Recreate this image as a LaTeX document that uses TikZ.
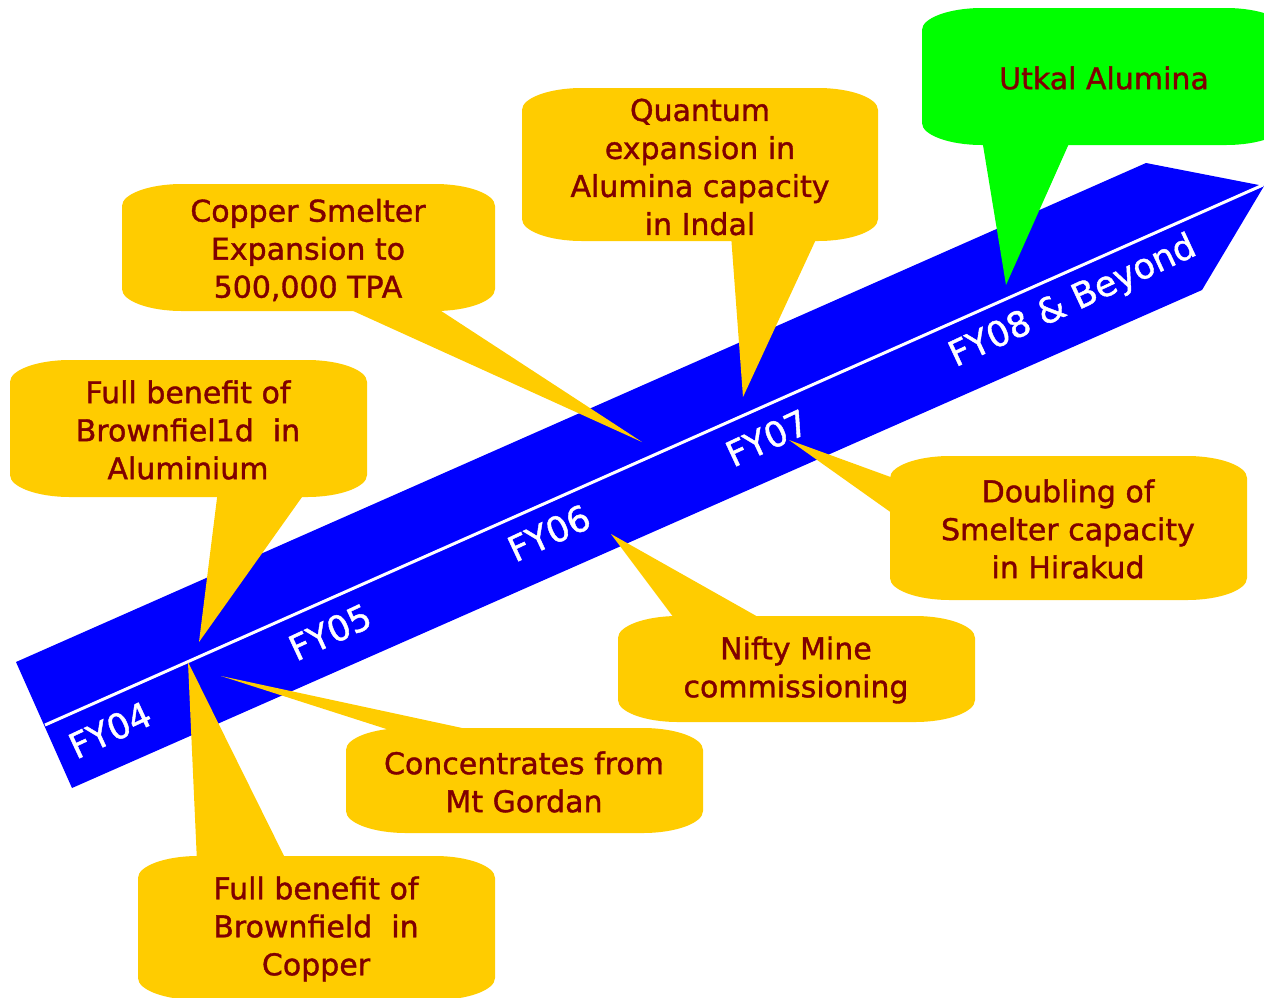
\documentclass[tikz,border=0pt]{standalone}
\usepackage{fontspec}
\setmainfont{DejaVu Sans}
\newfontfamily\notefont[FakeBold=1.2]{DejaVu Sans}
\definecolor{gold}{HTML}{FFCC00}
\definecolor{maroon}{HTML}{800000}
\definecolor{bandblue}{HTML}{0000FF}
\definecolor{utkalgreen}{HTML}{00FF00}
% box with oval corners: x0, y0, x1, y1, colour
\newcommand{\bubble}[5]{%
\fill[#5] (#1,#2+22) .. controls (#1,#2+10) and (#1+27,#2) .. (#1+60,#2)
 -- (#3-60,#2) .. controls (#3-27,#2) and (#3,#2+10) .. (#3,#2+22)
 -- (#3,#4-22) .. controls (#3,#4-10) and (#3-27,#4) .. (#3-60,#4)
 -- (#1+60,#4) .. controls (#1+27,#4) and (#1,#4-10) .. (#1,#4-22) -- cycle;}
\tikzset{
  note/.style={align=center, text=maroon, inner sep=0pt,
    font=\notefont\fontsize{15}{19}\selectfont},
  yearlbl/.style={text=white, inner sep=0pt, rotate=25,
    font=\notefont\fontsize{17.5}{20}\selectfont}
}
\begin{document}
\begin{tikzpicture}[x=0.5pt,y=-0.5pt]
\useasboundingbox (0,0) rectangle (1264,997);
\clip (0,0) rectangle (1264,997);
% the time band
\fill[bandblue] (16,662) -- (1146,163) -- (1264,186) -- (1202,290) -- (72,788) -- cycle;
\coordinate (railL) at (45,725);
\coordinate (railR) at (1263,185);
\draw[white, line width=1.5pt] (railL) -- (railR);
\foreach \nm/\xx/\yy/\lab in {fy4/110/730/FY04, fy5/330/632/FY05, fy6/549/533/FY06,
    fy7/767/438/FY07, fy8/1073/302/{FY08 \& Beyond}}
  {\node[yearlbl] (\nm) at (\xx,\yy) {\lab};}
% where the pointers end
\coordinate (aluTip) at (199,642);
\coordinate (cusmTip) at (642,442);
\coordinate (quantTip) at (743,397);
\coordinate (utkalTip) at (1006,285);
\coordinate (hiraTip) at (789,440);
\coordinate (niftyTip) at (611,534);
\coordinate (concTip) at (221,676);
\coordinate (cucoTip) at (188,662);
% callouts
\bubble{10}{360}{367}{497}{gold}
\fill[gold] (218,490) -- (aluTip) -- (307,490) -- cycle;
\node[note] (alu) at (188,430) {Full benefit of\\Brownfiel1d\ \ in\\Aluminium};
\bubble{122}{184}{495}{311}{gold}
\fill[gold] (340,305) -- (cusmTip) -- (432,305) -- cycle;
\node[note] (cusm) at (308,250) {Copper Smelter\\Expansion to\\500,000 TPA};
\bubble{522}{88}{878}{241}{gold}
\fill[gold] (731,235) -- (quantTip) -- (818,235) -- cycle;
\node[note] (quant) at (700,167) {Quantum\\expansion in\\Alumina capacity\\in Indal};
\bubble{922}{8}{1286}{145}{utkalgreen}
\fill[utkalgreen] (982,139) -- (utkalTip) -- (1071,139) -- cycle;
\node[note] (utkal) at (1104,78) {Utkal Alumina};
\bubble{890}{456}{1247}{600}{gold}
\fill[gold] (896,479) -- (hiraTip) -- (896,516) -- cycle;
\node[note] (hira) at (1068,529) {Doubling of\\Smelter capacity\\in Hirakud};
\bubble{618}{616}{975}{722}{gold}
\fill[gold] (677,622) -- (niftyTip) -- (767,622) -- cycle;
\node[note] (nifty) at (796,670) {Nifty Mine\\commissioning};
\bubble{346}{728}{703}{833}{gold}
\fill[gold] (402,734) -- (concTip) -- (490,734) -- cycle;
\node[note] (conc) at (524,782) {Concentrates from\\Mt Gordan};
\bubble{138}{856}{495}{1000}{gold}
\fill[gold] (197,862) -- (cucoTip) -- (287,862) -- cycle;
\node[note] (cuco) at (316,929) {Full benefit of\\Brownfield\ \ in\\Copper};
\end{tikzpicture}
\end{document}
